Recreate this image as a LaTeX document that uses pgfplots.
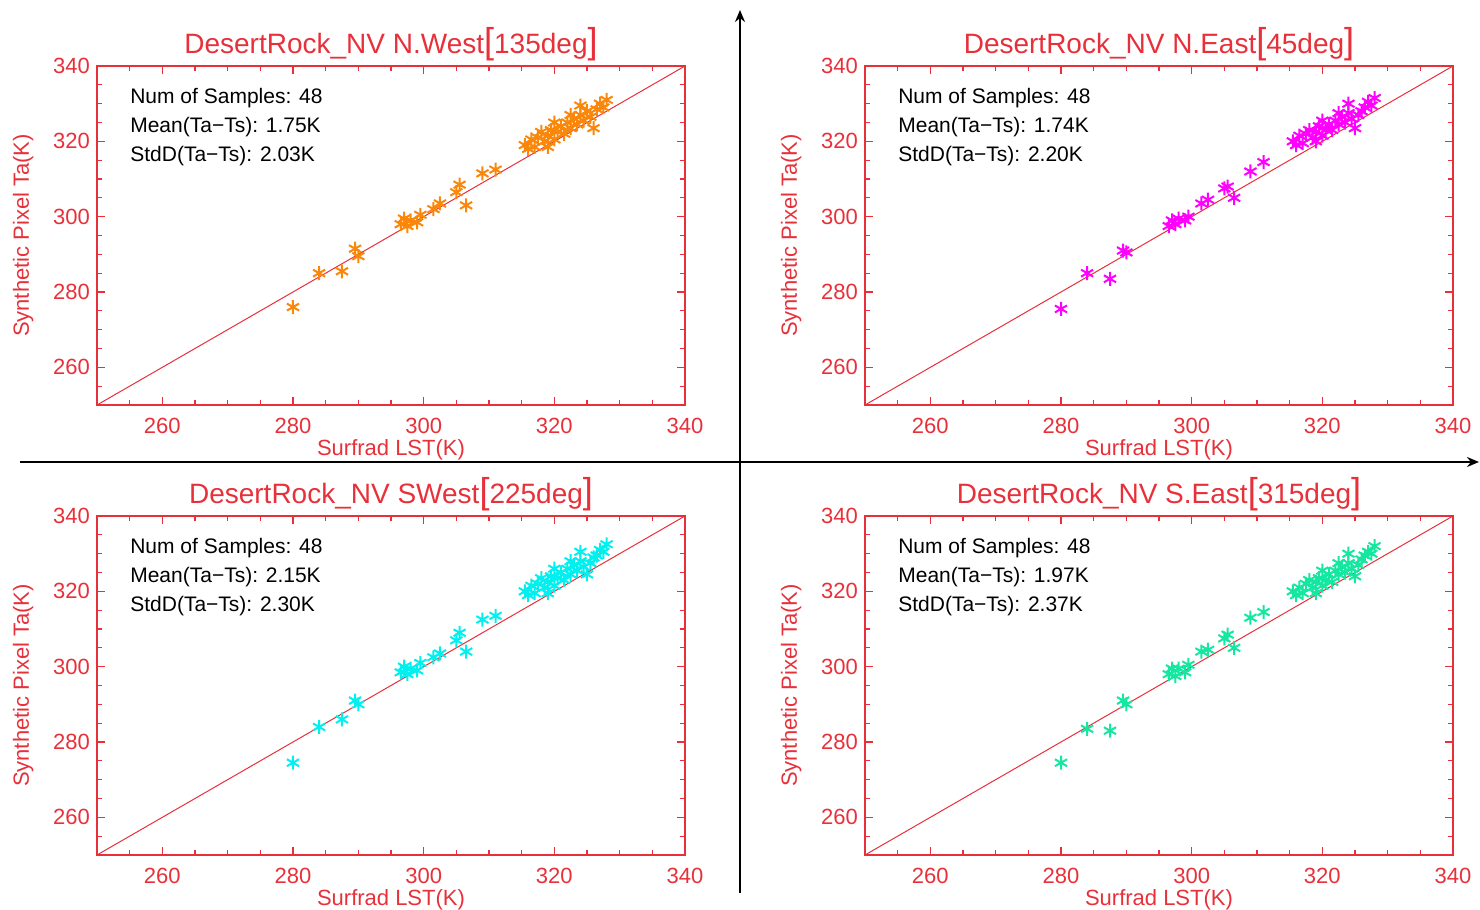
\documentclass[border=0pt]{standalone}
\usepackage{fontspec}
\setmainfont{Liberation Sans}
\usepackage{pgfplots}
\usepackage{pgfplotstable}
\usetikzlibrary{arrows.meta}
\pgfplotsset{compat=1.18}
\definecolor{idlred}{RGB}{232,48,58}
\definecolor{cor}{RGB}{250,135,10}
\definecolor{cmag}{RGB}{255,0,255}
\definecolor{ccyan}{RGB}{0,240,240}
\definecolor{cgreen}{RGB}{20,232,160}

\pgfplotstableread{
x     nw     ne     sw     se
280.0 276.0 275.5 274.5 274.5
284.0 285.0 285.0 284.0 283.5
287.5 285.5 283.5 286.0 283.0
289.5 291.5 291.0 291.0 291.0
290.0 289.5 290.5 290.0 290.0
296.5 298.0 297.5 298.5 298.0
297.0 299.5 299.0 300.0 299.5
297.5 297.5 298.0 298.0 297.5
298.0 299.0 299.5 299.5 299.5
299.0 298.5 299.0 299.0 298.5
299.5 300.5 300.0 301.0 300.5
301.5 302.0 303.5 302.5 304.0
302.5 303.5 304.5 303.5 304.5
305.0 306.5 307.5 307.0 307.5
305.5 308.5 308.0 309.0 308.5
306.5 303.0 305.0 304.0 305.0
309.0 311.5 312.0 312.5 313.0
311.0 312.5 314.5 313.5 314.5
315.5 319.0 320.0 320.0 320.0
316.0 318.0 319.0 319.0 319.0
316.5 320.5 321.5 321.5 321.0
317.0 318.5 319.5 319.5 319.5
317.5 321.0 322.0 322.0 322.0
318.0 322.5 323.0 323.5 323.0
318.5 320.0 321.0 321.0 321.0
319.0 321.5 322.5 322.5 322.5
319.0 318.5 320.0 319.5 319.5
319.5 323.0 324.0 324.0 323.5
320.0 320.5 321.5 321.5 321.5
320.0 325.0 325.5 326.0 325.5
320.5 322.5 323.0 323.5 323.0
321.0 324.0 324.5 325.0 324.5
321.5 322.0 323.0 323.0 322.5
322.0 325.0 325.5 326.0 325.5
322.5 323.5 324.5 324.5 324.5
322.5 327.0 327.5 328.0 327.5
323.0 326.0 326.5 327.0 326.5
323.5 324.5 325.0 325.5 325.0
324.0 327.0 327.5 328.0 327.5
324.0 329.5 330.0 330.5 330.0
324.5 325.5 326.0 326.5 326.0
325.0 328.0 323.5 324.5 324.0
325.5 326.5 327.0 327.5 327.0
326.0 323.5 328.0 329.0 328.5
326.5 328.5 329.0 329.5 329.5
327.0 330.0 330.5 331.0 330.5
327.5 329.0 329.5 330.5 330.0
328.0 331.0 331.5 332.5 332.0
}\datatable

\pgfplotsset{
  panel/.style={
    anchor=south west, scale only axis,
    width=294pt, height=169.5pt,
    xmin=250, xmax=340, ymin=250, ymax=340,
    xtick={260,280,...,340}, ytick={260,280,...,340},
    minor xtick={255,265,270,275,285,290,295,305,310,315,325,330,335},
    minor ytick={255,265,270,275,285,290,295,305,310,315,325,330,335},
    tick align=inside,
    major tick length=4pt, minor tick length=2.5pt,
    every tick/.style={idlred, line width=0.6pt},
    axis line style={idlred, line width=0.8pt},
    tick label style={idlred, font=\fontsize{11}{11}\selectfont},
    xticklabel style={yshift=-3pt},
    /pgf/number format/assume math mode=true,
    /pgf/number format/1000 sep={},
    label style={idlred, font=\fontsize{11}{11}\selectfont},
    xlabel={Surfrad LST(K)}, ylabel={Synthetic Pixel Ta(K)},
    xlabel style={yshift=4pt},
    ylabel style={yshift=3pt},
    title style={idlred, font=\fontsize{14}{14}\selectfont, yshift=-7pt},
  },
  stars/.style={only marks, mark=asterisk, mark size=3.5pt, line width=1pt},
}
\newcommand{\br}[1]{{\fontsize{18}{18}\selectfont #1}}
\newcommand{\stats}[2]{%
  \node[anchor=north west, align=left, inner sep=0pt, font=\fontsize{10.5}{14.5}\selectfont]
    at (axis description cs:0.056,0.935)
    {Num of Samples: 48\\Mean(Ta−Ts): #1\\StdD(Ta−Ts): #2};}

\begin{document}
\begin{tikzpicture}
\path[use as bounding box] (0,0) rectangle (740pt,455pt);

\begin{axis}[panel, at={(48.5pt,252.5pt)},
  title={DesertRock\_NV N.West\br{[}135deg\br{]}}]
  \addplot[idlred, line width=0.5pt] coordinates {(250,250) (340,340)};
  \addplot[stars, color=cor] table[x=x, y=nw] {\datatable};
  \stats{1.75K}{2.03K}
\end{axis}

\begin{axis}[panel, at={(432.5pt,252.5pt)},
  title={DesertRock\_NV N.East\br{[}45deg\br{]}}]
  \addplot[idlred, line width=0.5pt] coordinates {(250,250) (340,340)};
  \addplot[stars, color=cmag] table[x=x, y=ne] {\datatable};
  \stats{1.74K}{2.20K}
\end{axis}

\begin{axis}[panel, at={(48.5pt,27.5pt)},
  title={DesertRock\_NV SWest\br{[}225deg\br{]}}]
  \addplot[idlred, line width=0.5pt] coordinates {(250,250) (340,340)};
  \addplot[stars, color=ccyan] table[x=x, y=sw] {\datatable};
  \stats{2.15K}{2.30K}
\end{axis}

\begin{axis}[panel, at={(432.5pt,27.5pt)},
  title={DesertRock\_NV S.East\br{[}315deg\br{]}}]
  \addplot[idlred, line width=0.5pt] coordinates {(250,250) (340,340)};
  \addplot[stars, color=cgreen] table[x=x, y=se] {\datatable};
  \stats{1.97K}{2.37K}
\end{axis}

\draw[black, line width=1pt, -{Stealth[length=6pt,width=5pt]}] (370pt,8.5pt) -- (370pt,450pt);
\draw[black, line width=1pt, -{Stealth[length=6pt,width=5pt]}] (10pt,224pt) -- (739.5pt,224pt);
\end{tikzpicture}
\end{document}
